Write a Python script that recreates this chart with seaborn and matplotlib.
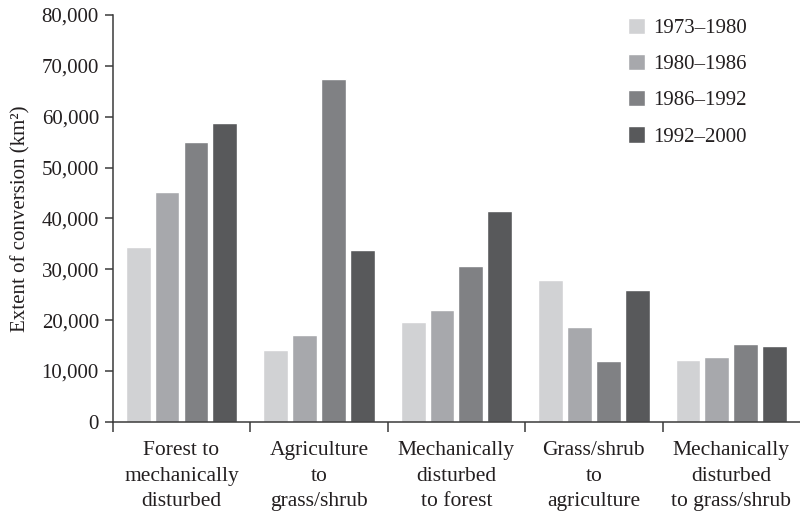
import pandas as pd
import seaborn as sns
import matplotlib.pyplot as plt
from matplotlib.ticker import FuncFormatter, FixedLocator

# Data (km^2)
conversions = ['Forest to\nmechanically\ndisturbed',
               'Agriculture\nto\ngrass/shrub',
               'Mechanically\ndisturbed\nto forest',
               'Grass/shrub\nto\nagriculture',
               'Mechanically\ndisturbed\nto grass/shrub']
periods = ['1973–1980', '1980–1986', '1986–1992', '1992–2000']
p1973 = [34300, 14200, 19600, 27800, 12100]
p1980 = [45100, 17000, 21900, 18600, 12700]
p1986 = [55000, 67500, 30600, 11900, 15300]
p1992 = [58700, 33700, 41400, 26000, 14900]
colors = ['#d1d2d4', '#a7a8ac', '#808184', '#58595b']

rows = []
for period, vals in zip(periods, [p1973, p1980, p1986, p1992]):
    for conv, v in zip(conversions, vals):
        rows.append({'conversion': conv, 'period': period, 'extent': v})
data = pd.DataFrame(rows)

sns.set_style('white')
plt.rcParams['font.family'] = ['Liberation Serif', 'DejaVu Serif']
plt.rcParams['text.color'] = '#231f20'
axis_col = '#3a3a3a'

fig = plt.figure(figsize=(8, 5.15), dpi=100)
ax = fig.add_axes([0.141, 0.181, 0.859, 0.79])

sns.barplot(data=data, x='conversion', y='extent', hue='period',
            palette=colors, saturation=1, width=0.84, gap=0.14,
            errorbar=None, ax=ax)

ax.set_xlim(-0.5, 4.5)
ax.set_ylim(0, 80000)
ax.set_yticks(range(0, 80001, 10000))
ax.yaxis.set_major_formatter(FuncFormatter(lambda v, p: f'{int(v):,}'))

ax.set_xlabel('')
ax.set_ylabel('Extent of conversion (km²)', fontsize=15, color='#231f20', labelpad=8)

ax.tick_params(axis='y', length=6, width=1.1, color=axis_col, labelsize=15,
               labelcolor='#231f20', pad=4, left=True)
ax.tick_params(axis='x', which='major', length=0, labelsize=15.5,
               labelcolor='#231f20', pad=14)
for lbl in ax.get_xticklabels():
    lbl.set_linespacing(1.45)
ax.xaxis.set_minor_locator(FixedLocator([-0.5, 0.5, 1.5, 2.5, 3.5]))
ax.tick_params(axis='x', which='minor', length=7, width=1.1, color=axis_col,
               bottom=True)

for side in ['top', 'right']:
    ax.spines[side].set_visible(False)
for side in ['left', 'bottom']:
    ax.spines[side].set_color(axis_col)
    ax.spines[side].set_linewidth(1.1)

ax.legend(title=None, frameon=False, fontsize=15, loc='upper left',
          bbox_to_anchor=(0.737, 1.014), handlelength=0.85, handleheight=0.85,
          handletextpad=0.4, labelspacing=0.75, borderaxespad=0)

fig.savefig('out.png', dpi=100)
